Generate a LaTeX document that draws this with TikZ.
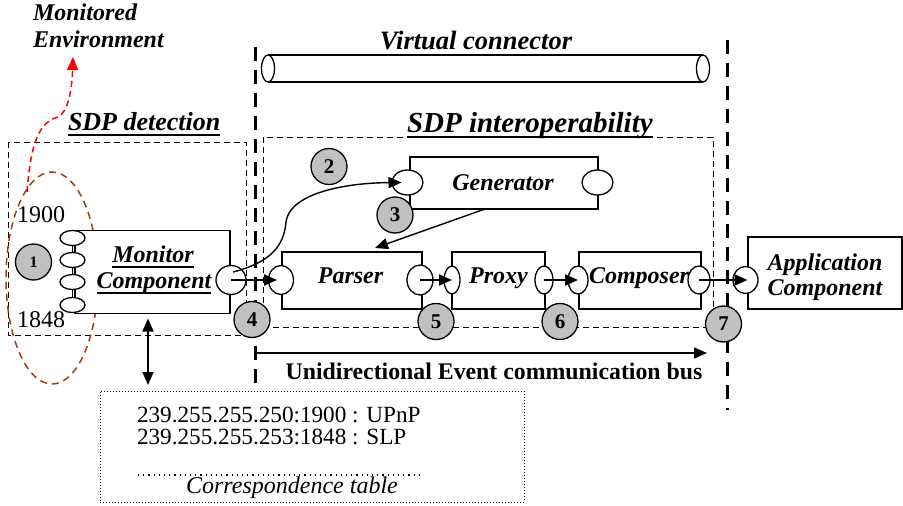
\documentclass[tikz,border=0pt]{standalone}
\usepackage{fontspec}
\setmainfont{Liberation Serif}
\usetikzlibrary{arrows.meta,shapes.geometric}
\definecolor{numgrey}{RGB}{192,192,192}
\definecolor{envbrown}{RGB}{160,64,16}
\newsavebox\myulbox
\newcommand\myul[1]{\sbox\myulbox{#1}\rlap{\rule[-6pt]{\wd\myulbox}{2.5pt}}\usebox\myulbox}
\begin{document}
\begin{tikzpicture}[x=1pt,y=-1pt,
  every node/.style={inner sep=0pt,outer sep=0pt},
  rm/.style={font=\fontsize{24}{26}\selectfont},
  bi/.style={font=\fontsize{24}{26}\selectfont\bfseries\itshape},
  bititle/.style={font=\fontsize{26}{28}\selectfont\bfseries\itshape},
  bb/.style={font=\fontsize{23.8}{25}\selectfont\bfseries},
  it/.style={font=\fontsize{24}{26}\selectfont\itshape},
  box/.style={draw,rectangle,line width=1.3pt,fill=white},
  port/.style={draw,ellipse,line width=1.3pt,fill=white},
  num/.style={draw,circle,line width=1.3pt,fill=numgrey,minimum size=36pt,font=\fontsize{21}{21}\selectfont\bfseries},
  flow/.style={line width=2pt,-{Triangle[length=13pt,width=11pt]}},
  thinflow/.style={line width=1.4pt,-{Triangle[length=13pt,width=11pt]}},
  region/.style={draw,line width=1pt,dash pattern=on 6pt off 4pt},
  divider/.style={line width=3pt,dash pattern=on 14pt off 9pt}]
\useasboundingbox (0,0) rectangle (903,506);

% regions
\draw[region] (8,142) rectangle (246,335);
\draw[region] (263,137) rectangle (713,327);
\draw[divider] (255.5,47) -- (255.5,390);
\draw[divider] (727.5,40) -- (727.5,410);

% brown ellipse
\draw[envbrown,line width=1.5pt,dash pattern=on 7pt off 5pt] (52,278) ellipse [x radius=46pt,y radius=106pt];

% virtual connector
\node[port,minimum width=13pt,minimum height=27pt] (vcL) at (268,68.5) {};
\node[port,minimum width=13pt,minimum height=27pt] (vcR) at (703,68.5) {};
\draw[line width=1.3pt] (vcL.north) -- (vcR.north);
\draw[line width=1.3pt] (vcL.south) -- (vcR.south);

% boxes
\node[box,minimum width=155pt,minimum height=83pt] (mon) at (152.5,272) {};
\node[box,minimum width=188pt,minimum height=52pt] (gen) at (504,183) {};
\node[box,minimum width=140pt,minimum height=57pt] (parser) at (352,280.5) {};
\node[box,minimum width=93pt,minimum height=57pt] (proxy) at (498.5,280.5) {};
\node[box,minimum width=122pt,minimum height=57pt] (composer) at (640,280.5) {};
\node[box,minimum width=154pt,minimum height=72pt] (app) at (825,273) {};

% stacked ports of the monitor
\draw[line width=1.3pt] (72.5,238) -- (72.5,305);
\foreach \yy/\nm in {238/s1,260/s2,282/s3,305/s4}
  \node[port,minimum width=25pt,minimum height=15pt] (\nm) at (72.5,\yy) {};

% ports
\node[port,minimum width=30pt,minimum height=29pt] (mport) at (231,280) {};
\node[port,minimum width=31pt,minimum height=25pt] (genL) at (407.5,182.5) {};
\node[port,minimum width=31pt,minimum height=25pt] (genR) at (597.5,182.5) {};
\node[port,minimum width=25pt,minimum height=29pt] (parL) at (281,280) {};
\node[port,minimum width=26pt,minimum height=30pt] (parR) at (420,280) {};
\node[port,minimum width=16pt,minimum height=28pt] (proxL) at (452,280) {};
\node[port,minimum width=18pt,minimum height=28pt] (proxR) at (544,280) {};
\node[port,minimum width=20pt,minimum height=28pt] (compL) at (578,280) {};
\node[port,minimum width=22pt,minimum height=28pt] (compR) at (699,280) {};
\node[port,minimum width=25pt,minimum height=27pt] (appL) at (745.5,280) {};

% flows
\draw[flow] (mport.center) -- ([xshift=-4pt]parL.center);
\draw[flow] (parR.center) -- (proxL.center);
\draw[flow] (proxR.center) -- (compL.center);
\draw[flow] (compR.center) -- ([xshift=2pt]appL.center);
\draw[thinflow] ([shift={(2pt,8pt)}]mport.center) .. controls (272,262) and (284,245) .. (286,222)
  .. controls (289,195) and (340,183) .. ([xshift=-6pt]genL.center);
\draw[thinflow] ([xshift=-19pt]gen.south) -- ([xshift=23pt,yshift=4pt]parser.north);

% red arrow to monitored environment
\coordinate (redS) at (27,192);
\coordinate (redE) at (73,57);
\draw[red,line width=1.5pt,dash pattern=on 6pt off 4pt,-{Triangle[length=13pt,width=11pt]}]
  (redS) .. controls (31,140) and (40,122) .. (58,117) .. controls (68,112) and (72,90) .. (redE);

% table
\node[draw,rectangle,line width=1pt,dash pattern=on 1pt off 2pt,minimum width=424pt,minimum height=111pt] (table) at (312,446.5) {};
\draw[line width=1.2pt,dash pattern=on 1.2pt off 4pt] (138,475) -- (422,475);
\draw[line width=1.5pt,{Triangle[length=13pt,width=11pt]}-{Triangle[length=13pt,width=11pt]}]
  ([xshift=-4.5pt,yshift=-5pt]mon.south) -- ([xshift=-164pt,yshift=6pt]table.north);

% bus
\coordinate (busS) at (255,353);
\coordinate (busE) at (707,353);
\draw[line width=1.5pt,-{Triangle[length=13pt,width=11pt]}] (busS) -- (busE);

% numbers
\node[num,font=\fontsize{16}{16}\selectfont\bfseries] (c1) at (33.5,262) {1};
\node[num] (c2) at (329,166.5) {2};
\node[num] (c3) at (395,215) {3};
\node[num] (c4) at (252,319.5) {4};
\node[num] (c5) at (436,321.5) {5};
\node[num] (c6) at (560,321.5) {6};
\node[num] (c7) at (723.5,324) {7};

% texts
\node[bi,anchor=base west] (tme1) at (33,20) {Monitored};
\node[bi,anchor=base west] (tme2) at (33,47) {Environment};
\node[bititle,anchor=base west] (tdet) at (68,130) {\myul{SDP detection}};
\node[font=\fontsize{29}{30}\selectfont\bfseries\itshape,anchor=base west] (tint) at (407,132) {\myul{SDP interoperability}};
\node[font=\fontsize{26.5}{28}\selectfont\bfseries\itshape,anchor=base] (tvc) at (476,49) {Virtual connector};
\node[rm,anchor=base west] (t1900) at (17,222) {1900};
\node[rm,anchor=base west] (t1848) at (17,327) {1848};
\node[bi,anchor=base] (tmon1) at (153,262) {\myul{Monitor}};
\node[bi,anchor=base] (tmon2) at (154,288) {\myul{Component}};
\node[bi,anchor=base] (tgen) at (503,190) {Generator};
\node[bi,anchor=base] (tpar) at (350.5,283) {Parser};
\node[bi,anchor=base] (tprox) at (498.5,283) {Proxy};
\node[bi,anchor=base] (tcomp) at (639,283) {Composer};
\node[bi,anchor=base] (tapp1) at (825,270) {Application};
\node[bi,anchor=base] (tapp2) at (825,295) {Component};
\node[bb,anchor=base] (tbus) at (494,379) {Unidirectional Event communication bus};
\node[font=\fontsize{23.2}{21.5}\selectfont,align=left,anchor=base west] (tl) at (137,444)
  {239.255.255.250:1900 : UPnP\\239.255.255.253:1848 : SLP};
\node[it,anchor=base] (tct) at (292,493) {Correspondence table};
\end{tikzpicture}
\end{document}
